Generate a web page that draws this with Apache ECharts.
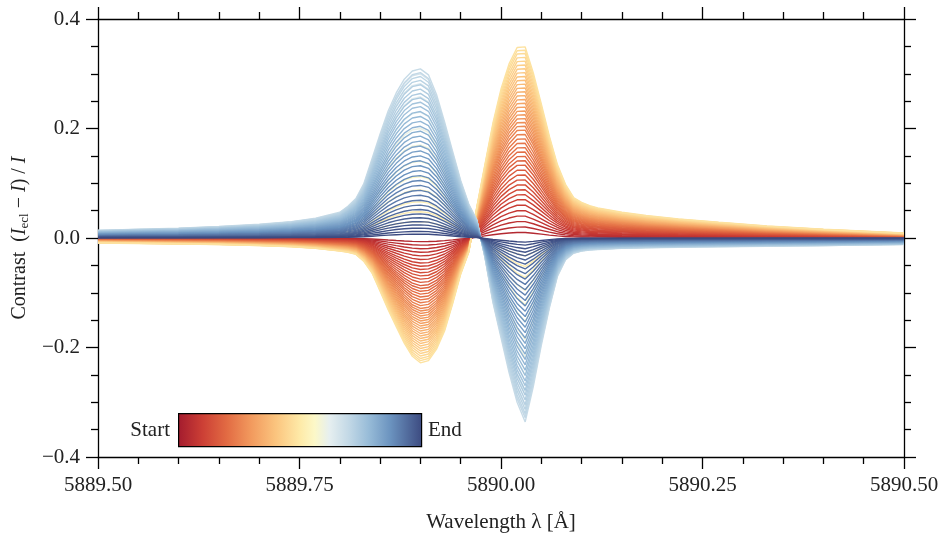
<!DOCTYPE html>
<html>
<head>
<meta charset="utf-8">
<script src="https://cdn.jsdelivr.net/npm/echarts@6/dist/echarts.min.js"></script>
<style>
  html, body { margin: 0; padding: 0; background: #fff; }
  #chart { width: 944px; height: 536px; }
</style>
</head>
<body>
<div id="chart"></div>
<script>
// Wavelength samples [Å]; dense across the Na D2 core, sparse in the wings
const wavelengths = [
  5889.50, 5889.55, 5889.60, 5889.65, 5889.70, 5889.74, 5889.77,
  5889.80, 5889.81, 5889.82, 5889.83, 5889.84, 5889.85, 5889.86, 5889.87, 5889.88, 5889.89,
  5889.90, 5889.91, 5889.92, 5889.93, 5889.94, 5889.95, 5889.96, 5889.97, 5889.98, 5889.99,
  5890.00, 5890.01, 5890.02, 5890.03, 5890.04, 5890.05, 5890.06, 5890.07, 5890.08, 5890.09,
  5890.10, 5890.11, 5890.12,
  5890.15, 5890.18, 5890.22, 5890.27, 5890.33, 5890.40, 5890.50
];

// Contrast of the strongest early-eclipse spectrum (blue-wing dip, red-wing bump)
const earlyProfile = [
  -0.009, -0.010, -0.011, -0.012, -0.014, -0.016, -0.019,
  -0.024, -0.026, -0.030, -0.043, -0.064, -0.097, -0.131, -0.162, -0.192, -0.216,
  -0.228, -0.224, -0.203, -0.170, -0.120, -0.066, -0.026, 0.057, 0.134, 0.210,
  0.272, 0.318, 0.348, 0.349, 0.302, 0.245, 0.186, 0.134, 0.098, 0.074,
  0.065, 0.059, 0.055,
  0.047, 0.041, 0.035, 0.029, 0.022, 0.016, 0.009
];

// Contrast of the strongest late-eclipse spectrum (blue-wing bump, red-wing dip)
const lateProfile = [
  0.014, 0.016, 0.018, 0.021, 0.025, 0.030, 0.036,
  0.047, 0.058, 0.072, 0.100, 0.145, 0.190, 0.232, 0.265, 0.290, 0.305,
  0.309, 0.298, 0.262, 0.212, 0.158, 0.105, 0.062, 0.033, -0.035, -0.118,
  -0.182, -0.246, -0.300, -0.336, -0.272, -0.196, -0.128, -0.070, -0.040, -0.028,
  -0.024, -0.022, -0.021,
  -0.019, -0.018, -0.017, -0.016, -0.015, -0.014, -0.012
];

// Red-wing bump height of each early spectrum, in time order
const earlyPeaks = [
  0.010, 0.020, 0.030, 0.040, 0.050, 0.060, 0.070, 0.079, 0.088, 0.097,
  0.106, 0.115, 0.124, 0.133, 0.141, 0.149, 0.157, 0.165, 0.173, 0.181,
  0.189, 0.197, 0.204, 0.211, 0.218, 0.225, 0.232, 0.239, 0.246, 0.253,
  0.260, 0.267, 0.274, 0.281, 0.288, 0.295, 0.302, 0.309, 0.316, 0.323,
  0.330, 0.337, 0.343, 0.349
];

// Blue-wing bump height of the spectra around mid-eclipse
const transitionPeaks = [
  0.030, 0.048, 0.066, 0.088, 0.112, 0.140, 0.170, 0.200, 0.230, 0.258, 0.282, 0.300
];

// Blue-wing bump height of each late spectrum, in time order
const latePeaks = [
  0.309, 0.302, 0.295, 0.288, 0.280, 0.272, 0.264, 0.256, 0.248, 0.240,
  0.231, 0.222, 0.213, 0.204, 0.195, 0.186, 0.177, 0.168, 0.159, 0.150,
  0.141, 0.132, 0.123, 0.114, 0.105, 0.096, 0.087, 0.078, 0.069, 0.060,
  0.052, 0.044, 0.037, 0.030, 0.024, 0.018, 0.012, 0.007
];

const xTickValues = [5889.50, 5889.75, 5890.00, 5890.25, 5890.50];
const xTickLabels = ['5889.50', '5889.75', '5890.00', '5890.25', '5890.50'];
const yTickValues = [-0.4, -0.2, 0.0, 0.2, 0.4];
const yTickLabels = ['\u22120.4', '\u22120.2', '0.0', '0.2', '0.4'];

// Colour ramp used for time (start = red, end = dark blue)
const ramp = [
  [0.00, '#a31b2e'], [0.10, '#cc3f35'], [0.20, '#e26b43'], [0.30, '#f29a5e'],
  [0.40, '#fbc47e'], [0.50, '#feeaa8'], [0.56, '#fcf8c8'], [0.62, '#e6eff0'],
  [0.70, '#c2d8e6'], [0.78, '#98bcd8'], [0.87, '#6b93bf'], [1.00, '#3c4a80']
];

function hexToRgb(h) {
  return [parseInt(h.slice(1, 3), 16), parseInt(h.slice(3, 5), 16), parseInt(h.slice(5, 7), 16)];
}
function rampColor(t) {
  for (let k = 1; k < ramp.length; k++) {
    if (t <= ramp[k][0]) {
      const a = ramp[k - 1], b = ramp[k];
      const f = (t - a[0]) / (b[0] - a[0]);
      const ca = hexToRgb(a[1]), cb = hexToRgb(b[1]);
      const c = ca.map((v, j) => Math.round(v + (cb[j] - v) * f));
      return 'rgb(' + c.join(',') + ')';
    }
  }
  return ramp[ramp.length - 1][1];
}

const FONT = '"Liberation Serif", "Times New Roman", serif';
const series = [];

function addGroup(profile, peaks, t0, t1) {
  const ref = Math.max.apply(null, profile);
  peaks.forEach((p, k) => {
    const t = peaks.length > 1 ? t0 + (t1 - t0) * k / (peaks.length - 1) : t0;
    series.push({
      type: 'line',
      data: wavelengths.map((w, j) => [w, profile[j] * p / ref]),
      showSymbol: false,
      symbol: 'none',
      smooth: false,
      silent: true,
      animation: false,
      lineStyle: { width: 1.4, color: rampColor(t) },
      emphasis: { disabled: true },
      z: 2
    });
  });
}
addGroup(earlyProfile, earlyPeaks, 0.04, 0.48);
addGroup(lateProfile, transitionPeaks, 0.50, 0.66);
addGroup(lateProfile, latePeaks, 0.69, 1.0);

function lookup(values, labels, v) {
  for (let k = 0; k < values.length; k++) {
    if (Math.abs(values[k] - v) < 1e-6) return labels[k];
  }
  return '';
}

const tickLine = { color: '#000', width: 1.3 };
const xCommon = {
  type: 'value', min: 5889.5, max: 5890.5, interval: 0.25,
  axisLine: { onZero: false, lineStyle: tickLine },
  axisTick: { inside: false, length: 12, lineStyle: tickLine },
  minorTick: { show: true, splitNumber: 5, length: 7, lineStyle: tickLine },
  splitLine: { show: false }, minorSplitLine: { show: false }
};
const yCommon = {
  type: 'value', min: -0.4, max: 0.4, interval: 0.2,
  axisLine: { onZero: false, lineStyle: tickLine },
  axisTick: { inside: false, length: 12, lineStyle: tickLine },
  minorTick: { show: true, splitNumber: 4, length: 7, lineStyle: tickLine },
  splitLine: { show: false }, minorSplitLine: { show: false }
};

const chart = echarts.init(document.getElementById('chart'), null, { renderer: 'canvas' });
chart.setOption({
  animation: false,
  backgroundColor: '#fff',
  grid: { left: 98, right: 40, top: 19, bottom: 79, containLabel: false, outerBoundsMode: 'none' },
  xAxis: [
    Object.assign({}, xCommon, {
      position: 'bottom',
      axisLabel: {
        formatter: v => lookup(xTickValues, xTickLabels, v),
        fontSize: 21, fontFamily: FONT, color: '#222', margin: 18,
        showMinLabel: true, showMaxLabel: true
      },
      name: 'Wavelength \u03bb [\u00c5]',
      nameLocation: 'middle', nameGap: 55,
      nameTextStyle: { fontSize: 21, fontFamily: FONT, color: '#222' }
    }),
    Object.assign({}, xCommon, { position: 'top', axisLabel: { show: false } })
  ],
  yAxis: [
    Object.assign({}, yCommon, {
      position: 'left',
      axisLabel: {
        formatter: v => lookup(yTickValues, yTickLabels, v),
        fontSize: 21, fontFamily: FONT, color: '#222', margin: 18,
        showMinLabel: true, showMaxLabel: true
      },
      name: '{a|Contrast  (}{i|I}{s|ecl}{a| \u2212 }{i|I}{a|) / }{i|I}',
      nameLocation: 'middle', nameGap: 66,
      nameTextStyle: {
        fontSize: 20, fontFamily: FONT, color: '#222',
        rich: {
          a: { fontSize: 20, fontFamily: FONT, color: '#222' },
          i: { fontSize: 20, fontFamily: FONT, fontStyle: 'italic', color: '#222' },
          s: { fontSize: 13, fontFamily: FONT, color: '#222', verticalAlign: 'bottom', padding: [9, 0, 0, 0] }
        }
      }
    }),
    Object.assign({}, yCommon, { position: 'right', axisLabel: { show: false } })
  ],
  graphic: [
    {
      type: 'rect', left: 178, top: 413, z: 100,
      shape: { width: 243, height: 33 },
      style: {
        fill: new echarts.graphic.LinearGradient(0, 0, 1, 0,
          ramp.map(s => ({ offset: s[0], color: s[1] }))),
        stroke: '#000', lineWidth: 1.2
      }
    },
    {
      type: 'text', x: 170, y: 430, z: 100,
      style: { text: 'Start', align: 'right', verticalAlign: 'middle',
        fontSize: 21, fontFamily: FONT, fill: '#222' }
    },
    {
      type: 'text', x: 428, y: 430, z: 100,
      style: { text: 'End', align: 'left', verticalAlign: 'middle',
        fontSize: 21, fontFamily: FONT, fill: '#222' }
    }
  ],
  series: series
});
</script>
</body>
</html>
